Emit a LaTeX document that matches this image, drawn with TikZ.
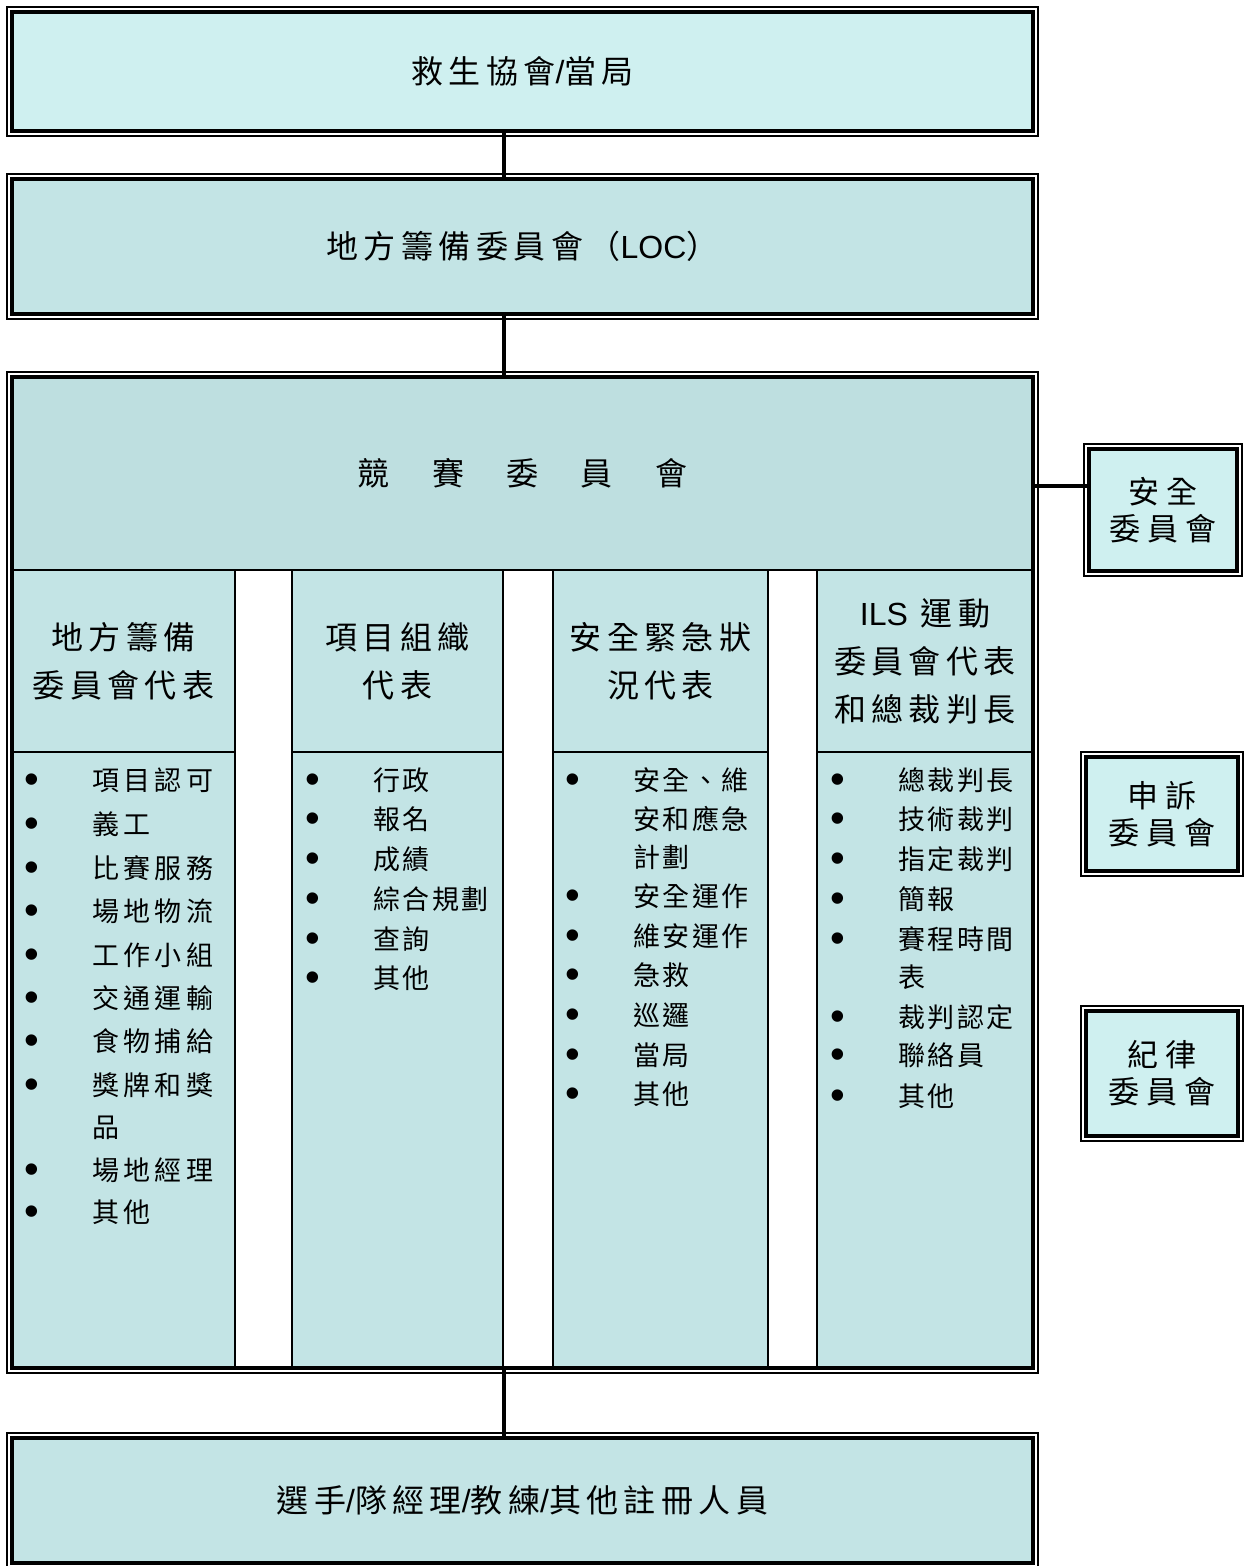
\documentclass[tikz,border=0pt]{standalone}
\usepackage{fontspec}
\setmainfont{Liberation Sans}
\newfontfamily\cjkT[LetterSpace=17]{Noto Sans CJK TC}
\newfontfamily\cjkH[LetterSpace=17]{Noto Sans CJK TC}
\newfontfamily\cjkL[LetterSpace=16]{Noto Sans CJK TC}
\newfontfamily\cjkM[LetterSpace=9]{Noto Sans CJK TC}
\newfontfamily\cjkR[LetterSpace=22]{Noto Sans CJK TC}
\newfontfamily\cjkP{Noto Sans CJK TC}
\definecolor{boxlight}{HTML}{CFF0F0}
\definecolor{boxmid}{HTML}{C3E4E5}
\definecolor{boxhead}{HTML}{BEDFE0}
\newcommand\slsh{{\rmfamily /}}
\begin{document}
\begin{tikzpicture}[x=1pt,y=-1pt,
  frm/.style={inner sep=0pt, outer sep=0pt},
  titletext/.style={font=\fontsize{32}{37}\cjkT, align=center},
  sidetext/.style={font=\fontsize{31}{37}\cjkR, align=center},
  colhead/.style={frm, fill=boxmid, draw, line width=2pt, minimum height=182pt, align=center, font=\fontsize{32}{48}\cjkH},
  collist/.style={frm, fill=boxmid, draw, line width=2pt, minimum height=616pt},
  itemA/.style={anchor=west, inner sep=0pt, font=\fontsize{27}{30}\cjkL},
  itemB/.style={anchor=west, inner sep=0pt, font=\fontsize{27}{30}\cjkM},
  bul/.style={inner sep=0pt, yshift=-4pt, font=\fontsize{42}{42}\selectfont},
  conn/.style={line width=4pt},
  thickline/.style={line width=4.5pt},
  thinline/.style={line width=1.8pt}
]
\useasboundingbox (0,0) rectangle (1245,1566);

% main boxes
\node[frm, fill=boxlight, minimum width=1021pt, minimum height=119pt, titletext] (auth) at (522.5,71.5) {救生協會\slsh 當局};
\node[frm, fill=boxmid, minimum width=1021pt, minimum height=135pt, titletext] (loc) at (522.5,246.5) {地方籌備委員會（{\rmfamily LOC}）};
\node[frm, minimum width=1021pt, minimum height=991pt] (big) at (522.5,872.5) {};
\node[frm, fill=boxhead, draw, line width=2pt, minimum width=1021pt, minimum height=194pt, font=\fontsize{32}{37}\cjkP] (comm) at (522.5,473) {競\hspace{42.5pt}賽\hspace{42.5pt}委\hspace{42.5pt}員\hspace{42.5pt}會};

% column headers
\node[colhead, minimum width=223pt] (h1) at (123.5,661) {地方籌備\\委員會代表};
\node[colhead, minimum width=211pt] (h2) at (397.5,661) {項目組織\\代表};
\node[colhead, minimum width=215pt] (h3) at (660.5,661) {安全緊急狀\\況代表};
\node[colhead, minimum width=216pt] (h4) at (925,661) {{\rmfamily ILS} 運動\\委員會代表\\和總裁判長};

% column lists
\node[collist, minimum width=223pt] (l1) at (123.5,1060) {};
\node[collist, minimum width=211pt] (l2) at (397.5,1060) {};
\node[collist, minimum width=215pt] (l3) at (660.5,1060) {};
\node[collist, minimum width=216pt] (l4) at (925,1060) {};

% column 1 items
\foreach \t/\y [count=\i] in {項目認可/780, 義工/824, 比賽服務/868, 場地物流/911, 工作小組/955, 交通運輸/998, 食物捕給/1041, 獎牌和獎/1085, 品/1128, 場地經理/1170, 其他/1212}
  \node[itemA] (a\i) at (92,\y) {\t};
\foreach \y [count=\i] in {780,824,868,911,955,998,1041,1085,1170,1212}
  \node[bul] (ab\i) at (32,\y) {•};

% column 2 items
\foreach \t/\y [count=\i] in {行政/780, 報名/819, 成績/859, 綜合規劃/899, 查詢/939, 其他/978}
  \node[itemB] (b\i) at (373,\y) {\t};
\foreach \y [count=\i] in {780,819,859,899,939,978}
  \node[bul] (bb\i) at (313,\y) {•};

% column 3 items
\foreach \t/\y [count=\i] in {安全、維/780, 安和應急/819, 計劃/857, 安全運作/896, 維安運作/936, 急救/975, 巡邏/1015, 當局/1055, 其他/1094}
  \node[itemB] (c\i) at (633,\y) {\t};
\foreach \y [count=\i] in {780,896,936,975,1015,1055,1094}
  \node[bul] (cb\i) at (573,\y) {•};

% column 4 items
\foreach \t/\y [count=\i] in {總裁判長/780, 技術裁判/819, 指定裁判/859, 簡報/899, 賽程時間/939, 表/977, 裁判認定/1017, 聯絡員/1055, 其他/1096}
  \node[itemB] (d\i) at (898,\y) {\t};
\foreach \y [count=\i] in {780,819,859,899,939,1017,1055,1096}
  \node[bul] (db\i) at (838,\y) {•};

% bottom box
\node[frm, fill=boxmid, minimum width=1021pt, minimum height=125pt, titletext] (ath) at (522.5,1500.5) {選手\slsh 隊經理\slsh 教練\slsh 其他註冊人員};

% side boxes
\node[frm, fill=boxlight, minimum width=148pt, minimum height=122pt, sidetext] (safe) at (1163,510) {安全\\委員會};
\node[frm, fill=boxlight, minimum width=152pt, minimum height=114pt, sidetext] (appeal) at (1162,814) {申訴\\委員會};
\node[frm, fill=boxlight, minimum width=152pt, minimum height=125pt, sidetext] (disc) at (1162,1073.5) {紀律\\委員會};

% connectors
\coordinate (spine) at (504,0);
\coordinate (branch) at (0,486);
\draw[conn] (auth.south -| spine) -- (loc.north -| spine);
\draw[conn] (loc.south -| spine) -- (big.north -| spine);
\draw[conn] (big.south -| spine) -- (ath.north -| spine);
\draw[conn] (big.east |- branch) -- (safe.west |- branch);

% double frames (thin outside, thick inside)
\foreach \n in {auth,loc,big,ath,safe,appeal,disc}{
  \draw[thickline] (\n.south west) rectangle (\n.north east);
  \draw[thinline] ([xshift=-5pt,yshift=-5pt]\n.south west) rectangle ([xshift=5pt,yshift=5pt]\n.north east);
}
\end{tikzpicture}
\end{document}
